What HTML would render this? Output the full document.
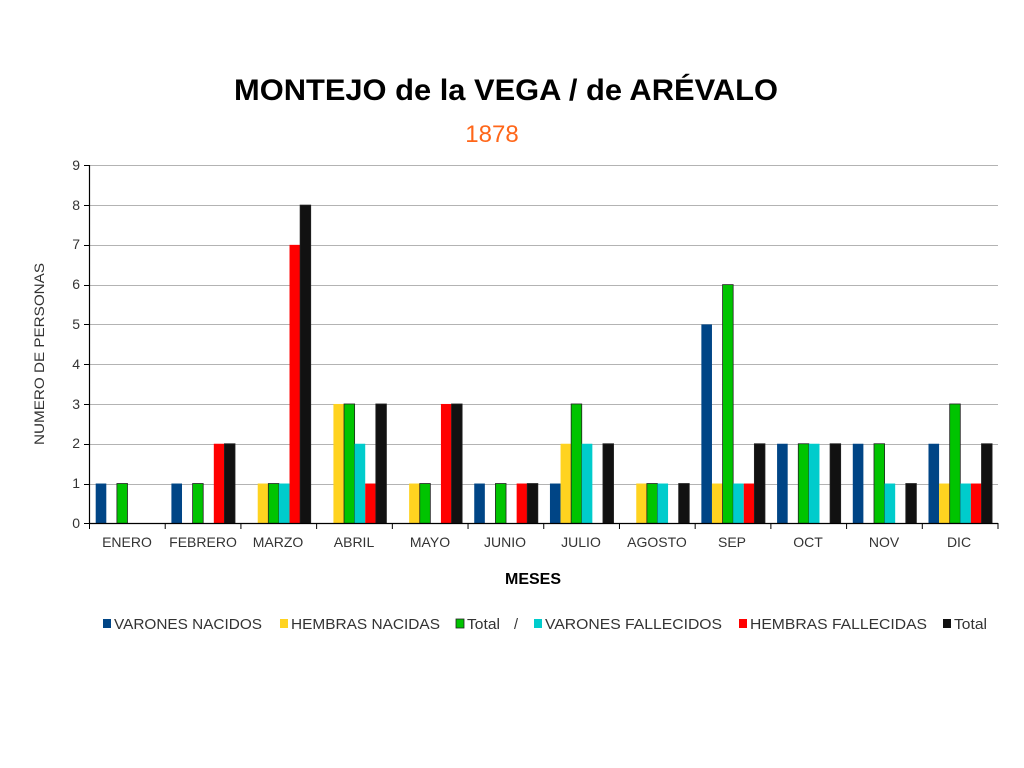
<!DOCTYPE html>
<html><head><meta charset="utf-8"><style>
html,body{margin:0;padding:0;background:#fff;}
svg{display:block;font-family:"Liberation Sans",sans-serif;}
</style></head><body>
<svg id="s" width="1024" height="768" xmlns="http://www.w3.org/2000/svg">
<rect width="1024" height="768" fill="#fff"/>
<text x="234" y="100" font-size="30" font-weight="bold" fill="#000" textLength="544" lengthAdjust="spacingAndGlyphs">MONTEJO de la VEGA / de ARÉVALO</text>
<text x="492" y="142" text-anchor="middle" font-size="24" fill="#ff6619">1878</text>
<g id="grid" stroke="#b3b3b3" stroke-width="1"></g>
<g id="bars"></g>
<g stroke="#000" stroke-width="1.2">
<line x1="89.5" y1="165" x2="89.5" y2="523.5"/>
<line x1="89.5" y1="523.5" x2="998" y2="523.5"/>
</g>
<g id="ticks" stroke="#000" stroke-width="1"></g>
<g font-size="14" fill="#333" text-anchor="end">
<text x="80" y="528">0</text><text x="80" y="488">1</text><text x="80" y="448">2</text><text x="80" y="409">3</text><text x="80" y="369">4</text><text x="80" y="329">5</text><text x="80" y="289">6</text><text x="80" y="249">7</text><text x="80" y="210">8</text><text x="80" y="170">9</text>
</g>
<text transform="translate(44,445) rotate(-90)" font-size="14" fill="#333" textLength="182" lengthAdjust="spacingAndGlyphs">NUMERO DE PERSONAS</text>
<g font-size="14" fill="#333" text-anchor="middle">
<text x="127" y="547">ENERO</text><text x="203" y="547">FEBRERO</text><text x="278" y="547">MARZO</text><text x="354" y="547">ABRIL</text><text x="430" y="547">MAYO</text><text x="505" y="547">JUNIO</text><text x="581" y="547">JULIO</text><text x="657" y="547">AGOSTO</text><text x="732" y="547">SEP</text><text x="808" y="547">OCT</text><text x="884" y="547">NOV</text><text x="959" y="547">DIC</text>
</g>
<text x="533" y="584" text-anchor="middle" font-size="16" font-weight="bold" fill="#000">MESES</text>
<g font-size="14.5" fill="#333" lengthAdjust="spacingAndGlyphs">
<rect x="103" y="619" width="8" height="9" fill="#004586"/><text x="114" y="629" textLength="148" lengthAdjust="spacingAndGlyphs">VARONES NACIDOS</text>
<rect x="280" y="619" width="8" height="9" fill="#ffd320"/><text x="291" y="629" textLength="149" lengthAdjust="spacingAndGlyphs">HEMBRAS NACIDAS</text>
<rect x="456" y="619" width="8" height="9" fill="#00c400" stroke="#222" stroke-width="0.8"/><text x="467" y="629" textLength="33" lengthAdjust="spacingAndGlyphs">Total</text>
<text x="514" y="629">/</text>
<rect x="534" y="619" width="8" height="9" fill="#00cccc"/><text x="545" y="629" textLength="177" lengthAdjust="spacingAndGlyphs">VARONES FALLECIDOS</text>
<rect x="739" y="619" width="8" height="9" fill="#ff0000"/><text x="750" y="629" textLength="177" lengthAdjust="spacingAndGlyphs">HEMBRAS FALLECIDAS</text>
<rect x="943" y="619" width="8" height="9" fill="#111"/><text x="954" y="629" textLength="33" lengthAdjust="spacingAndGlyphs">Total</text>
</g>
</svg>
<script>
var ns="http://www.w3.org/2000/svg";
function el(p,t,a){var e=document.createElementNS(ns,t);for(var k in a)e.setAttribute(k,a[k]);document.getElementById(p).appendChild(e);}
var y0=523.3,u=(523.3-165.3)/9,x0=89.5,cw=(998-89.5)/12,bw=10.6;
for(var i=1;i<=9;i++){var y=Math.round(y0-i*u)+0.5;el("grid","line",{x1:84,x2:998,y1:y,y2:y});}
el("ticks","line",{x1:84,x2:89.5,y1:523.5,y2:523.5});
for(var i=1;i<=9;i++){var y=Math.round(y0-i*u)+0.5;el("ticks","line",{x1:84,x2:89.5,y1:y,y2:y});}
for(var i=0;i<=12;i++){var x=x0+i*cw;el("ticks","line",{x1:x,x2:x,y1:523,y2:529});}
var d=[[1,0,1,0,0,0],[1,0,1,0,2,2],[0,1,1,1,7,8],[0,3,3,2,1,3],[0,1,1,0,3,3],[1,0,1,0,1,1],[1,2,3,2,0,2],[0,1,1,1,0,1],[5,1,6,1,1,2],[2,0,2,2,0,2],[2,0,2,1,0,1],[2,1,3,1,1,2]];
var c=["#004586","#ffd320","#00c400","#00cccc","#ff0000","#111111"];
for(var g=0;g<12;g++)for(var k=0;k<6;k++){var v=d[g][k];if(!v)continue;var x=x0+g*cw+6.2+k*bw,h=v*u;
var a={x:x,y:y0-h,width:bw,height:h,fill:c[k]};if(k==2||k==5){a.stroke="#222";a["stroke-width"]=0.8;}el("bars","rect",a);}
</script>
</body></html>
